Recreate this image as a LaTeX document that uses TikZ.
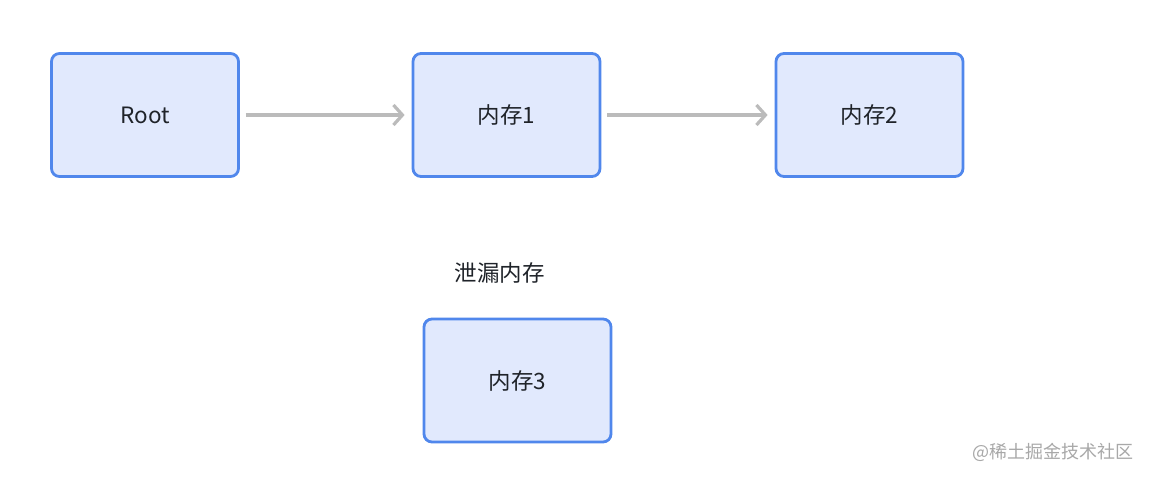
\documentclass[tikz,border=0pt]{standalone}
\usepackage{fontspec}
\setmainfont{Noto Sans CJK SC}
\usetikzlibrary{arrows.meta}
\definecolor{boxblue}{HTML}{5087EC}
\definecolor{boxfill}{HTML}{E1E9FD}
\definecolor{txt}{HTML}{1F2329}
\definecolor{arr}{HTML}{BBBBBB}
\definecolor{sig}{HTML}{A8A8A8}
\tikzset{
  membox/.style={draw=boxblue, fill=boxfill, line width=2.8pt, rounded corners=8pt,
    minimum width=187pt, minimum height=123pt, inner sep=0pt, text=txt,
    font=\fontsize{22.5}{26}\selectfont},
  link/.style={draw=arr, line width=3.2pt, -{Straight Barb[length=9pt,width=20pt,line width=3.2pt]},
    shorten <=6pt, shorten >=7pt},
  lbl/.style={text=txt, font=\fontsize{22.5}{26}\selectfont, inner sep=0pt},
  sigstyle/.style={text=sig, font=\fontsize{18}{22}\selectfont, inner sep=0pt}
}
\begin{document}
\begin{tikzpicture}[x=1pt,y=-1pt]
\useasboundingbox (0,0) rectangle (1150,478);
\fill[white] (0,0) rectangle (1150,478);
\node[membox] (root) at (145,115) {Root};
\node[membox] (m1) at (506.5,115) {内存1};
\node[membox] (m2) at (869.5,115) {内存2};
\node[membox] (m3) at (517.5,380.5) {内存3};
\node[lbl] (leak) at (499.5,273) {泄漏内存};
\draw[link] (root) -- (m1);
\draw[link] (m1) -- (m2);
\node[sigstyle] (sigtext) at (1053,452) {@稀土掘金技术社区};
\end{tikzpicture}
\end{document}
